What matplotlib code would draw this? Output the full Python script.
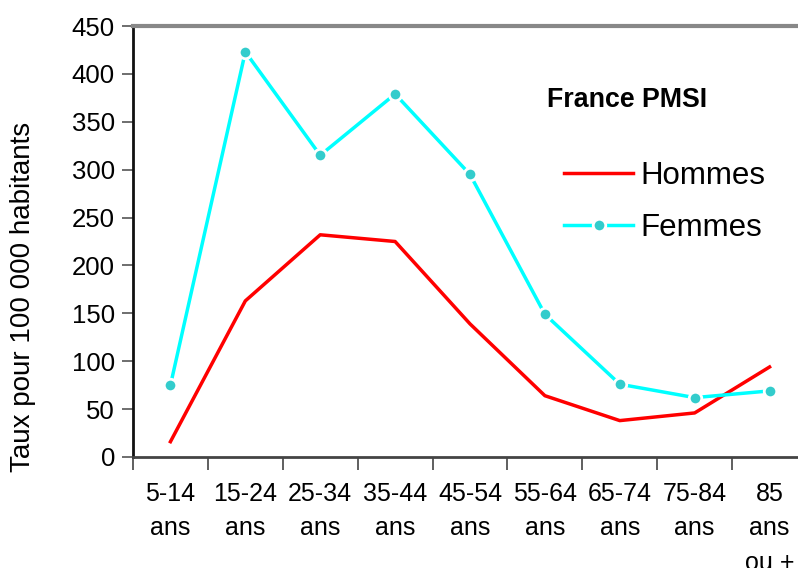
import numpy as np
import matplotlib.pyplot as plt
from matplotlib.ticker import FixedLocator, NullFormatter

plt.rcParams['font.family'] = ['Liberation Sans', 'DejaVu Sans']

categories = ['5-14\nans', '15-24\nans', '25-34\nans', '35-44\nans', '45-54\nans',
              '55-64\nans', '65-74\nans', '75-84\nans', '85\nans\nou +']
hommes = [16, 163, 232, 225, 139, 64, 38, 46, 94]
femmes = [75, 423, 315, 379, 295, 149, 76, 62, 69]

fig = plt.figure(figsize=(7.98, 5.68), dpi=100)
W, H = 798, 568
ax = fig.add_axes([133 / W, 1 - 457 / H, (807 - 133) / W, (457 - 26) / H])

x = np.arange(len(categories))
l_h, = ax.plot(x, hommes, color='#ff0000', lw=2.5, label='Hommes')
l_f, = ax.plot(x, femmes, color='#00ffff', lw=2.5, marker='o', markersize=9,
               markerfacecolor='#33cccc', markeredgecolor='white',
               markeredgewidth=2, label='Femmes')

ax.set_xlim(-0.5, len(categories) - 0.5)
ax.set_ylim(0, 450)
ax.set_yticks(np.arange(0, 451, 50))
ax.tick_params(axis='y', labelsize=18.5, length=8, width=1.2, color='#555555', pad=5)

# ticks at boundaries, labels at centres
ax.xaxis.set_major_locator(FixedLocator(np.arange(-0.5, len(categories), 1)))
ax.xaxis.set_major_formatter(NullFormatter())
ax.xaxis.set_minor_locator(FixedLocator(x))
ax.set_xticklabels(categories, minor=True, fontsize=18, linespacing=1.55)
ax.tick_params(axis='x', which='minor', length=0, pad=18)
ax.tick_params(axis='x', which='major', length=9, width=1.2, color='#444444')
for t in ax.get_xticklabels(minor=True):
    t.set_verticalalignment('top')

fig.text(23 / W, 1 - 297 / H, 'Taux pour 100 000 habitants', fontsize=20,
         rotation=90, ha='center', va='center')

ax.spines['left'].set_linewidth(2)
ax.spines['left'].set_color('#111111')
ax.spines['bottom'].set_linewidth(2)
ax.spines['bottom'].set_color('#444444')
ax.spines['top'].set_linewidth(3)
ax.spines['top'].set_color('#888888')
ax.spines['right'].set_visible(False)

fig.text(547 / W, 1 - 100 / H, 'France PMSI', fontsize=19.3, fontweight='bold',
         va='center', ha='left')
fig.legend(handles=[l_h, l_f], loc='upper left', bbox_to_anchor=(536 / W, 1 - 133 / H),
           frameon=False, fontsize=22.5, handlelength=2.2, handletextpad=0.25,
           labelspacing=0.7)

fig.savefig('out.png', dpi=100)
